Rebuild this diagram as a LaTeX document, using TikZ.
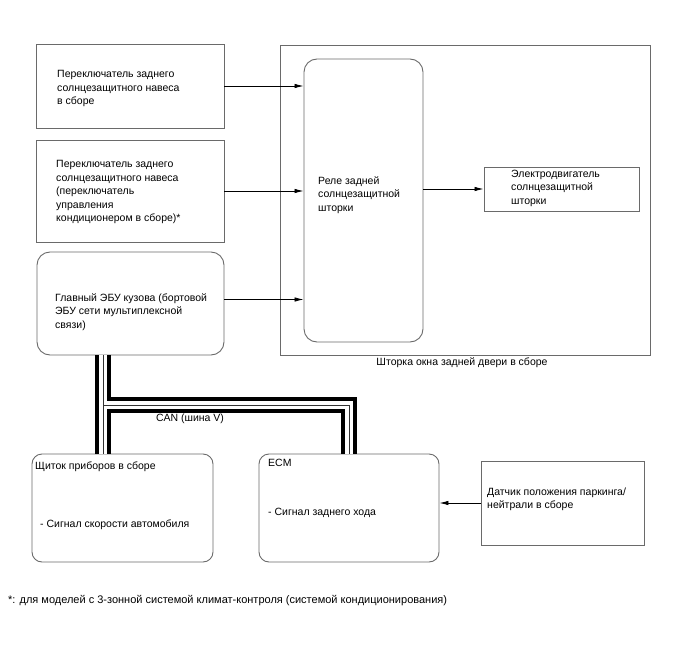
\documentclass[tikz,border=0pt]{standalone}
\usepackage{fontspec}
\setmainfont{Liberation Sans}
\usetikzlibrary{arrows.meta}
\definecolor{boxgray}{HTML}{6A6A6A}
\tikzset{
  box/.style={draw=boxgray, line width=0.9pt, inner sep=0pt},
  rbox/.style={box, rounded corners=13pt},
  lbl/.style={anchor=west, align=left, inner sep=0pt, font=\fontsize{10.5}{13.5}\selectfont},
  sig/.style={-{Latex[length=9pt,width=4.5pt]}, line width=0.8pt},
  busout/.style={line width=16pt, black},
  busin/.style={line width=8pt, white},
  busmid/.style={line width=1pt, black!80}
}

\begin{document}
\begin{tikzpicture}[x=1pt, y=-1pt]
\useasboundingbox (0,0) rectangle (688,658);
% left column
\node[box, minimum width=188pt, minimum height=84pt] (sw1) at (130,86) {};
\node[box, minimum width=188pt, minimum height=102pt] (sw2) at (130,191) {};
\node[rbox, minimum width=187pt, minimum height=103pt] (ecu) at (130.5,303.5) {};
\node[lbl] (sw1txt) at (57,88.5) {Переключатель заднего\\солнцезащитного навеса\\в сборе};
\node[lbl] (sw2txt) at (56,192) {Переключатель заднего\\солнцезащитного навеса\\(переключатель\\управления\\кондиционером в сборе)*};
\node[lbl] (ecutxt) at (55,312) {Главный ЭБУ кузова (бортовой\\ЭБУ сети мультиплексной\\связи)};
% rear door shade
\node[box, minimum width=370pt, minimum height=310pt] (door) at (465,200) {};
\node[lbl, anchor=center] (doortxt) at (462,363) {Шторка окна задней двери в сборе};
\node[rbox, minimum width=119pt, minimum height=283pt] (relay) at (363.5,200.5) {};
\node[lbl] (relaytxt) at (318,195) {Реле задней\\солнцезащитной\\шторки};
\node[box, minimum width=155pt, minimum height=44pt] (motor) at (561.5,189) {};
\node[lbl] (motortxt) at (511,188) {Электродвигатель\\солнцезащитной\\шторки};
\coordinate (ecuout) at ([yshift=4pt]ecu.east);
\draw[sig] (sw1.east) -- (relay.west |- sw1.east);
\draw[sig] (sw2.east) -- (relay.west |- sw2.east);
\draw[sig] (ecuout) -- (relay.west |- ecuout);
\draw[sig] (relay.east |- motor.west) -- (motor.west);
% bottom row
\node[rbox, rounded corners=10pt, minimum width=181pt, minimum height=108pt] (meter) at (122.5,508) {};
\node[lbl] (metertxt) at (35,467) {Щиток приборов в сборе};
\node[lbl] (metersig) at (40,525) {- Сигнал скорости автомобиля};
\node[rbox, rounded corners=10pt, minimum width=180pt, minimum height=108pt] (ecm) at (349,508) {};
\node[lbl] (ecmtxt) at (268,463) {ECM};
\node[lbl] (ecmsig) at (268,513) {- Сигнал заднего хода};
\node[box, minimum width=163pt, minimum height=84pt] (pnp) at (562.5,503) {};
\node[lbl] (pnptxt) at (487,499.5) {Датчик положения паркинга/\\нейтрали в сборе};
\draw[sig] (pnp.west) -- (ecm.east |- pnp.west);
% CAN bus
\coordinate (j) at (103,405);
\coordinate (k) at (ecm.north |- j);
\foreach \s in {busout,busin,busmid} {
  \draw[\s] (ecu.south -| j) -- (meter.north -| j);
  \draw[\s] (j) -- (k) -- (ecm.north);
}
\node[lbl, anchor=center] (can) at (190,419) {CAN (шина V)};
\node[lbl, font=\fontsize{11}{13.5}\selectfont] (note) at (8,601) {*: для моделей с 3-зонной системой климат-контроля (системой кондиционирования)};
\end{tikzpicture}
\end{document}
